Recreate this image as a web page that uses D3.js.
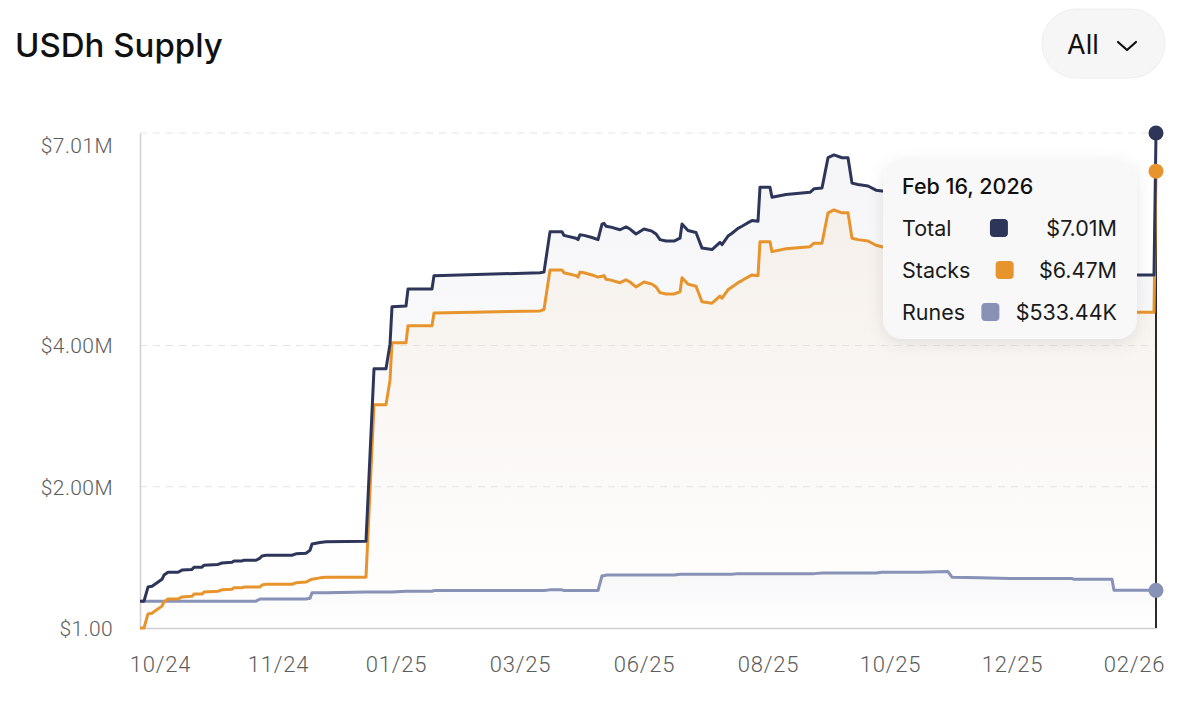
<!DOCTYPE html>
<html>
<head>
<meta charset="utf-8">
<title>USDh Supply</title>
<script src="https://cdn.jsdelivr.net/npm/d3@7"></script>
<style>
  body { margin: 0; background: #ffffff; }
  svg { display: block; }
</style>
</head>
<body>
<svg id="chart" width="1200" height="720"></svg>
<script>

// daily snapshots (corners of the supply curve), values in $M
var dates = [
  "2024-09-26","2024-09-28","2024-09-30","2024-10-02","2024-10-04","2024-10-07","2024-10-08","2024-10-10",
  "2024-10-15","2024-10-17","2024-10-22","2024-10-23","2024-10-27","2024-10-28","2024-11-04","2024-11-06",
  "2024-11-11","2024-11-12","2024-11-16","2024-11-17","2024-11-23","2024-11-25","2024-11-26","2024-11-28",
  "2024-12-11","2024-12-13","2024-12-18","2024-12-20","2024-12-21","2024-12-25","2024-12-28","2025-01-17",
  "2025-01-21","2025-01-27","2025-01-29","2025-01-30","2025-02-06","2025-02-07","2025-02-19","2025-02-20",
  "2025-04-14","2025-04-16","2025-04-19","2025-04-25","2025-04-26","2025-05-02","2025-05-03","2025-05-04",
  "2025-05-06","2025-05-10","2025-05-13","2025-05-15","2025-05-16","2025-05-17","2025-05-19","2025-05-24",
  "2025-05-27","2025-05-29","2025-06-01","2025-06-05","2025-06-09","2025-06-11","2025-06-13","2025-06-16",
  "2025-06-20","2025-06-23","2025-06-24","2025-06-27","2025-07-01","2025-07-04","2025-07-09","2025-07-13",
  "2025-07-14","2025-07-17","2025-07-19","2025-07-22","2025-07-24","2025-07-27","2025-07-29","2025-08-01",
  "2025-08-02","2025-08-07","2025-08-08","2025-08-15","2025-08-27","2025-08-29","2025-09-02","2025-09-05",
  "2025-09-08","2025-09-12","2025-09-15","2025-09-17","2025-09-20","2025-09-25","2025-09-29","2025-10-02",
  "2025-10-11","2025-10-21","2025-11-04","2025-11-06","2025-11-20","2025-12-05","2025-12-20","2026-01-05",
  "2026-01-06","2026-01-19","2026-01-25","2026-01-26","2026-02-06","2026-02-15","2026-02-16"
];

var totalSupply = [
  0.38, 0.38, 0.58, 0.59, 0.63, 0.69, 0.75, 0.79,
  0.79, 0.82, 0.83, 0.86, 0.86, 0.89, 0.90, 0.92,
  0.93, 0.95, 0.95, 0.96, 0.96, 0.99, 1.02, 1.03,
  1.03, 1.05, 1.06, 1.10, 1.19, 1.21, 1.22, 1.23,
  3.67, 3.67, 4.02, 4.55, 4.56, 4.80, 4.80, 4.99,
  5.03, 5.04, 5.61, 5.61, 5.56, 5.52, 5.50, 5.57,
  5.56, 5.53, 5.50, 5.72, 5.73, 5.69, 5.68, 5.64,
  5.68, 5.65, 5.58, 5.65, 5.62, 5.58, 5.50, 5.48,
  5.48, 5.52, 5.72, 5.63, 5.60, 5.38, 5.36, 5.46,
  5.43, 5.55, 5.59, 5.66, 5.69, 5.74, 5.77, 5.76,
  6.24, 6.24, 6.10, 6.14, 6.17, 6.22, 6.23, 6.66,
  6.70, 6.66, 6.66, 6.30, 6.28, 6.26, 6.20, 6.19,
  6.14, 6.10, 6.08, 5.98, 5.85, 5.62, 5.45, 5.30,
  5.28, 5.18, 5.15, 4.99, 5.00, 5.00, 7.01
];

var stacksSupply = [
  0.00, 0.00, 0.20, 0.21, 0.25, 0.31, 0.37, 0.41,
  0.41, 0.44, 0.45, 0.48, 0.48, 0.51, 0.52, 0.54,
  0.55, 0.57, 0.57, 0.58, 0.58, 0.58, 0.61, 0.62,
  0.62, 0.64, 0.65, 0.68, 0.69, 0.71, 0.72, 0.72,
  3.16, 3.16, 3.51, 4.04, 4.04, 4.28, 4.28, 4.46,
  4.49, 4.51, 5.07, 5.07, 5.03, 4.99, 4.97, 5.04,
  5.03, 5.00, 4.97, 4.98, 4.99, 4.94, 4.93, 4.89,
  4.93, 4.90, 4.83, 4.90, 4.87, 4.83, 4.75, 4.73,
  4.73, 4.76, 4.96, 4.87, 4.84, 4.62, 4.60, 4.70,
  4.67, 4.79, 4.83, 4.89, 4.92, 4.97, 5.00, 4.99,
  5.47, 5.47, 5.33, 5.37, 5.40, 5.45, 5.45, 5.88,
  5.92, 5.88, 5.88, 5.52, 5.50, 5.48, 5.42, 5.40,
  5.35, 5.31, 5.28, 5.26, 5.14, 4.92, 4.75, 4.60,
  4.59, 4.49, 4.46, 4.46, 4.47, 4.47, 6.47
];

var runesSupply = [
  0.38, 0.38, 0.38, 0.38, 0.38, 0.38, 0.38, 0.38,
  0.38, 0.38, 0.38, 0.38, 0.38, 0.38, 0.38, 0.38,
  0.38, 0.38, 0.38, 0.38, 0.38, 0.41, 0.41, 0.41,
  0.41, 0.41, 0.41, 0.42, 0.50, 0.50, 0.50, 0.51,
  0.51, 0.51, 0.51, 0.51, 0.52, 0.52, 0.52, 0.53,
  0.53, 0.53, 0.54, 0.54, 0.53, 0.53, 0.53, 0.53,
  0.53, 0.53, 0.53, 0.74, 0.74, 0.75, 0.75, 0.75,
  0.75, 0.75, 0.75, 0.75, 0.75, 0.75, 0.75, 0.75,
  0.75, 0.76, 0.76, 0.76, 0.76, 0.76, 0.76, 0.76,
  0.76, 0.76, 0.76, 0.77, 0.77, 0.77, 0.77, 0.77,
  0.77, 0.77, 0.77, 0.77, 0.77, 0.77, 0.78, 0.78,
  0.78, 0.78, 0.78, 0.78, 0.78, 0.78, 0.78, 0.79,
  0.79, 0.79, 0.80, 0.72, 0.71, 0.70, 0.70, 0.70,
  0.69, 0.69, 0.69, 0.53344, 0.53344, 0.53344, 0.53344
];

var seriesNames = ["Total", "Stacks", "Runes"];
var seriesColors = ["#2d3659", "#e8942c", "#8891b6"];

var yTicks = [0, 2, 4, 7.01];
var yTickLabels = ["$1.00", "$2.00M", "$4.00M", "$7.01M"];

var xTicks = ["2024-10-06","2024-12-04","2025-02-01","2025-04-04","2025-06-05","2025-08-06","2025-10-06","2025-12-06","2026-02-05"];
var xTickLabels = ["10/24","11/24","01/25","03/25","06/25","08/25","10/25","12/25","02/26"];


/*
Draws the supply chart: areas under each series, dashed grid, lines,
the hover cursor on the last day and the tooltip box.
*/
function drawSupplyChart() {

  var parseDate = d3.utcParse("%Y-%m-%d");
  var keys = ["total", "stacks", "runes"];

  // join the arrays into rows
  var rows = dates.map(function(d, i) {
    return {
      date: parseDate(d),
      total: totalSupply[i],
      stacks: stacksSupply[i],
      runes: runesSupply[i]
    };
  });

  var plotLeft = 140,
  plotRight = 1156,
  plotTop = 133,
  plotBottom = 628;

  var uiFont = "Inter, 'Noto Sans', sans-serif",
  axisFont = "Roboto, 'Noto Sans', sans-serif";

  var svg = d3.select("#chart");

  // scales
  var x = d3.scaleUtc()
            .domain(d3.extent(rows, function(d) { return d.date; }))
            .range([plotLeft, plotRight]);

  var y = d3.scaleLinear()
            .domain([0, d3.max(yTicks)])
            .range([plotBottom, plotTop]);

  // gradients for the soft area fills
  var defs = svg.append("defs");
  var fillOpacity = [0.05, 0.075, 0.06];
  keys.forEach(function(k, i) {
    var grad = defs.append("linearGradient")
                   .attr("id", "grad-" + k)
                   .attr("x1", 0).attr("y1", 0)
                   .attr("x2", 0).attr("y2", 1);
    grad.append("stop").attr("offset", "0%")
        .attr("stop-color", seriesColors[i]).attr("stop-opacity", fillOpacity[i]);
    grad.append("stop").attr("offset", "100%")
        .attr("stop-color", seriesColors[i]).attr("stop-opacity", 0);
  });

  var shadow = defs.append("filter")
                   .attr("id", "tip-shadow")
                   .attr("x", "-20%").attr("y", "-20%")
                   .attr("width", "140%").attr("height", "150%");
  shadow.append("feDropShadow")
        .attr("dx", 0).attr("dy", 4)
        .attr("stdDeviation", 8)
        .attr("flood-color", "#000")
        .attr("flood-opacity", 0.09);

  // title
  svg.append("text")
     .attr("x", 15)
     .attr("y", 57)
     .style("font-family", uiFont)
     .style("font-size", "33px")
     .style("font-weight", 500)
     .style("fill", "#111")
     .text("USDh Supply");

  // range selector pill
  var pill = svg.append("g").attr("class", "range-select");
  pill.append("rect")
      .attr("x", 1042).attr("y", 9)
      .attr("width", 123).attr("height", 69)
      .attr("rx", 34.5)
      .style("fill", "#f6f6f6")
      .style("stroke", "#eeeeee");
  pill.append("text")
      .attr("x", 1067).attr("y", 54)
      .style("font-family", uiFont)
      .style("font-size", "27px")
      .style("fill", "#111")
      .text("All");
  pill.append("path")
      .attr("d", "M1118,42 L1127,50 L1136,42")
      .style("fill", "none")
      .style("stroke", "#111")
      .style("stroke-width", 2.2)
      .style("stroke-linecap", "round")
      .style("stroke-linejoin", "round");

  // areas
  keys.forEach(function(k) {
    var area = d3.area()
                 .x(function(d) { return x(d.date); })
                 .y0(y(0))
                 .y1(function(d) { return y(d[k]); });
    svg.append("path")
       .datum(rows)
       .attr("class", "area-" + k)
       .attr("d", area)
       .style("fill", "url(#grad-" + k + ")");
  });

  // dashed horizontal grid
  svg.append("g")
     .attr("class", "grid")
     .selectAll("line")
     .data(yTicks.filter(function(t) { return t > 0; }))
     .enter()
     .append("line")
     .attr("x1", plotLeft).attr("x2", plotRight)
     .attr("y1", function(d) { return y(d); })
     .attr("y2", function(d) { return y(d); })
     .style("stroke", "#e4e4e4")
     .style("stroke-width", 1)
     .style("stroke-dasharray", "7,6");

  // y axis
  var yAxis = svg.append("g")
                 .attr("transform", "translate(" + plotLeft + ",0)")
                 .call(d3.axisLeft(y)
                         .tickValues(yTicks)
                         .tickSize(0)
                         .tickPadding(27)
                         .tickFormat(function(d, i) { return yTickLabels[i]; }));
  yAxis.select(".domain").style("stroke", "#cfcfcf").style("stroke-width", 1.5);
  yAxis.selectAll("text")
       .style("font-family", axisFont)
       .style("font-size", "21px")
       .style("font-weight", 300)
       .style("letter-spacing", "0.4px")
       .style("fill", "#5c5c5c")
       .attr("dy", function(d, i) { return i === yTicks.length - 1 ? "0.95em" : "0.35em"; });

  // x axis
  var xAxis = svg.append("g")
                 .attr("transform", "translate(0," + plotBottom + ")")
                 .call(d3.axisBottom(x)
                         .tickValues(xTicks.map(parseDate))
                         .tickSize(0)
                         .tickPadding(28)
                         .tickFormat(function(d, i) { return xTickLabels[i]; }));
  xAxis.select(".domain").style("stroke", "#cfcfcf").style("stroke-width", 1.5);
  xAxis.selectAll("text")
       .style("font-family", axisFont)
       .style("font-size", "22px")
       .style("font-weight", 300)
       .style("letter-spacing", "0.8px")
       .style("fill", "#5c5c5c");

  // cursor on the last day
  var last = rows[rows.length - 1];
  svg.append("line")
     .attr("x1", x(last.date)).attr("x2", x(last.date))
     .attr("y1", plotTop).attr("y2", plotBottom)
     .style("stroke", "#2a2a2a")
     .style("stroke-width", 2);

  // lines, runes first so total sits on top
  [2, 1, 0].forEach(function(i) {
    var k = keys[i];
    var line = d3.line()
                 .x(function(d) { return x(d.date); })
                 .y(function(d) { return y(d[k]); });
    svg.append("path")
       .datum(rows)
       .attr("class", "line-" + k)
       .attr("d", line)
       .style("fill", "none")
       .style("stroke", seriesColors[i])
       .style("stroke-width", 3)
       .style("stroke-linejoin", "round");
  });

  // active dots
  svg.selectAll(".dot")
     .data(keys)
     .enter()
     .append("circle")
     .attr("class", "dot")
     .attr("cx", x(last.date))
     .attr("cy", function(k) { return y(last[k]); })
     .attr("r", 7.5)
     .style("fill", function(k, i) { return seriesColors[i]; });

  // tooltip
  var tip = svg.append("g").attr("class", "tooltip");
  tip.append("rect")
     .attr("x", 883).attr("y", 159)
     .attr("width", 254).attr("height", 180)
     .attr("rx", 20)
     .style("fill", "#f8f8f8")
     .attr("filter", "url(#tip-shadow)");

  tip.append("text")
     .attr("x", 902).attr("y", 194)
     .style("font-family", uiFont)
     .style("font-size", "21.5px")
     .style("font-weight", 500)
     .style("fill", "#111")
     .text(d3.utcFormat("%b %-d, %Y")(last.date));

  var formatMoney = function(v) {
    if (v >= 1) {
      return "$" + v.toFixed(2) + "M";
    }
    return "$" + (v * 1000).toFixed(2) + "K";
  };

  keys.forEach(function(k, i) {
    var baseY = 236 + i * 42;
    var label = tip.append("text")
                   .attr("x", 902).attr("y", baseY)
                   .style("font-family", uiFont)
                   .style("font-size", "21.5px")
                   .style("fill", "#1a1a1a")
                   .text(seriesNames[i]);
    var value = tip.append("text")
                   .attr("x", 1117).attr("y", baseY)
                   .attr("text-anchor", "end")
                   .style("font-family", uiFont)
                   .style("font-size", "21.5px")
                   .style("fill", "#1a1a1a")
                   .text(formatMoney(last[k]));

    // swatch sits midway between label and value
    var labelEnd = 902 + label.node().getComputedTextLength();
    var valueStart = 1117 - value.node().getComputedTextLength();
    var mid = (labelEnd + valueStart) / 2;
    tip.append("rect")
       .attr("x", mid - 9).attr("y", baseY - 17)
       .attr("width", 18).attr("height", 18)
       .attr("rx", 4)
       .style("fill", seriesColors[i]);
  });
}

drawSupplyChart();
</script>
</body>
</html>
